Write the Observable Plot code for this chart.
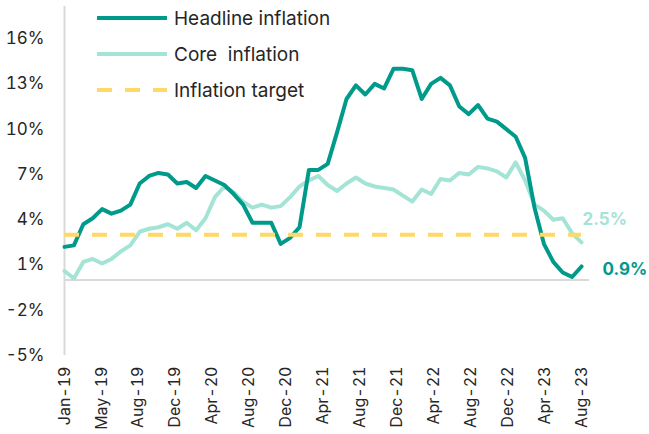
<!DOCTYPE html>
<html><head><meta charset="utf-8">
<script src="https://cdn.jsdelivr.net/npm/d3@7"></script>
<script src="https://cdn.jsdelivr.net/npm/@observablehq/plot@0.6"></script>
<style>
body{margin:0;background:#fff;}
#wrap{position:relative;width:649px;height:434px;}
#legend{position:absolute;left:0;top:0;pointer-events:none;}
</style></head><body><div id="wrap"></div>
<script>
// Monthly values, Jan-19 .. Aug-23
const headline = [2.2, 2.3, 3.7, 4.1, 4.7, 4.4, 4.6, 5.0, 6.4, 6.9, 7.1, 7.0, 6.4, 6.5, 6.1, 6.9,
  6.6, 6.3, 5.7, 5.0, 3.8, 3.8, 3.8, 2.4, 2.8, 3.5, 7.3, 7.3, 7.7, 9.8, 12.0, 12.9,
  12.3, 13.0, 12.7, 14.0, 14.0, 13.9, 12.0, 13.0, 13.4, 12.9, 11.5, 11.0, 11.6, 10.7,
  10.5, 10.0, 9.5, 8.1, 4.8, 2.4, 1.2, 0.5, 0.2, 0.9];
const core = [0.6, 0.1, 1.2, 1.4, 1.1, 1.4, 1.9, 2.3, 3.2, 3.4, 3.5, 3.7, 3.4, 3.8, 3.3, 4.1,
  5.5, 6.2, 5.8, 5.2, 4.8, 5.0, 4.8, 4.9, 5.5, 6.2, 6.6, 6.9, 6.3, 5.9, 6.4, 6.8,
  6.4, 6.2, 6.1, 6.0, 5.6, 5.2, 6.0, 5.7, 6.7, 6.6, 7.1, 7.0, 7.5, 7.4, 7.2, 6.8,
  7.8, 6.6, 5.0, 4.6, 4.0, 4.1, 3.1, 2.5];
const target = 3;
const tickLabels = ["Jan-19","May-19","Aug-19","Dec-19","Apr-20","Aug-20","Dec-20","Apr-21",
  "Aug-21","Dec-21","Apr-22","Aug-22","Dec-22","Apr-23","Aug-23"];
const yTicks = [-5, -2, 1, 4, 7, 10, 13, 16];
const seriesNames = ["Headline inflation", "Core  inflation", "Inflation target"];

const colHead = "#009a8a", colCore = "#a4e4d6", colTarget = "#ffd966";
const font = "Inter, sans-serif";
const last = headline.length - 1;
const nT = tickLabels.length - 1;
const tickPos = tickLabels.map((_, k) => k * last / nT);

const chart = Plot.plot({
  width: 649, height: 434,
  marginLeft: 64, marginRight: 60, marginTop: 6, marginBottom: 79,
  x: {domain: [0, last + 0.85], axis: null},
  y: {domain: [-5, 18.13], axis: null},
  style: {fontFamily: font, fontSize: "17px", color: "#262626", background: "#fff"},
  marks: [
    Plot.ruleY([0], {stroke: "#d9d9d9", strokeWidth: 2}),
    Plot.ruleX([0], {stroke: "#d9d9d9", strokeWidth: 2}),
    Plot.axisY({ticks: yTicks, tickSize: 0, tickPadding: 20, tickFormat: d => d + "%", fontSize: 17}),
    Plot.axisX({ticks: tickPos, tickSize: 0, tickPadding: 11, tickRotate: -90, fontSize: 16,
      tickFormat: d => tickLabels[Math.round(d * nT / last)]}),
    Plot.lineY(core, {x: (d, i) => i, y: d => d, stroke: colCore, strokeWidth: 4, strokeLinejoin: "round"}),
    Plot.lineY(headline, {x: (d, i) => i, y: d => d, stroke: colHead, strokeWidth: 4, strokeLinejoin: "round"}),
    Plot.ruleY([target], {x1: 0, x2: last, stroke: colTarget, strokeWidth: 4, strokeDasharray: "15,13"}),
    Plot.text([core[last]], {x: last, y: d => d, text: d => d.toFixed(1) + "%", dx: 1, dy: -23,
      textAnchor: "start", fill: colCore, fontWeight: "bold", fontSize: 17}),
    Plot.text([headline[last]], {x: last, y: d => d, text: d => d.toFixed(1) + "%", dx: 21, dy: 3,
      textAnchor: "start", fill: colHead, fontWeight: "bold", fontSize: 17})
  ]
});
const wrap = document.getElementById("wrap");
wrap.appendChild(chart);

// legend overlay
const legendItems = [
  {name: seriesNames[0], color: colHead, dash: null},
  {name: seriesNames[1], color: colCore, dash: null},
  {name: seriesNames[2], color: colTarget, dash: "15,13"}
];
const lg = d3.select(wrap).append("svg").attr("id", "legend").attr("width", 649).attr("height", 120);
const rows = lg.selectAll("g").data(legendItems).join("g")
  .attr("transform", (d, i) => `translate(97,${18 + i * 36})`);
rows.append("line").attr("x1", 0).attr("x2", 70).attr("y1", 0).attr("y2", 0)
  .attr("stroke", d => d.color).attr("stroke-width", 4)
  .attr("stroke-dasharray", d => d.dash);
rows.append("text").attr("x", 77).attr("dy", "0.35em")
  .style("white-space", "pre").attr("font-family", font).attr("font-size", 19)
  .attr("fill", "#262626").text(d => d.name);
</script></body></html>
